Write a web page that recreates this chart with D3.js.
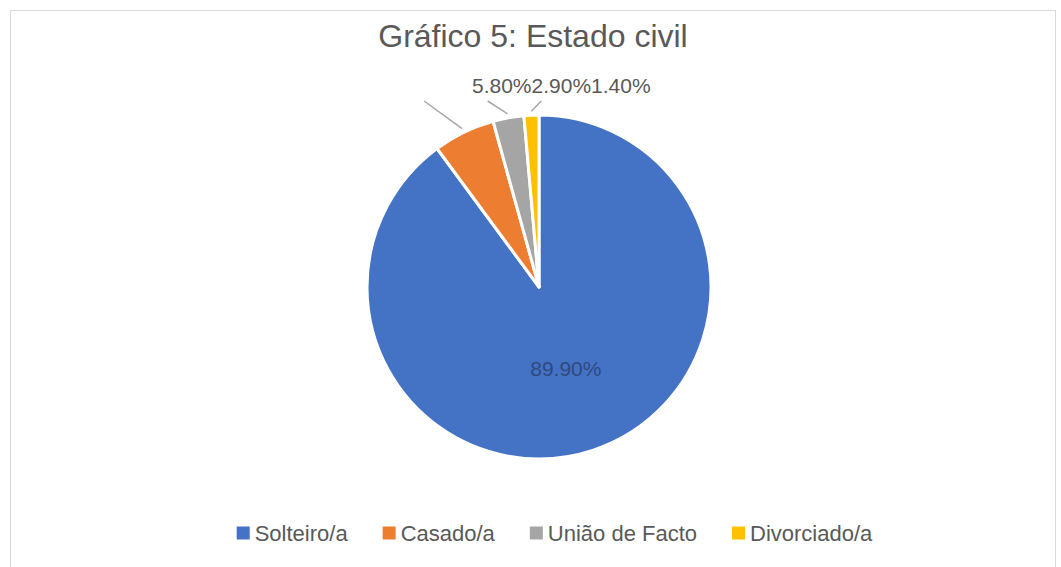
<!DOCTYPE html>
<html>
<head>
<meta charset="utf-8">
<script src="https://cdn.jsdelivr.net/npm/d3@7"></script>
<style>
  body { margin: 0; background: #fff; }
  svg text { font-family: "Liberation Sans", Arial, sans-serif; }
</style>
</head>
<body>
<div id="chart"></div>
<script>
// data
const categories = ["Solteiro/a", "Casado/a", "União de Facto", "Divorciado/a"];
const values = [89.9, 5.8, 2.9, 1.4];
const valueLabels = ["89.90%", "5.80%", "2.90%", "1.40%"];
const colors = ["#4472C4", "#ED7D31", "#A5A5A5", "#FFC000"];
const title = "Gráfico 5: Estado civil";

const width = 1061, height = 567;
const cx = 539, cy = 287, radius = 172;

const svg = d3.select("#chart").append("svg")
    .attr("width", width)
    .attr("height", height);

// chart area border
svg.append("rect")
    .attr("x", 10.5).attr("y", 10.5)
    .attr("width", 1045).attr("height", 570)
    .attr("fill", "none")
    .attr("stroke", "#D9D9D9")
    .attr("stroke-width", 1);

svg.append("text")
    .attr("x", 533)
    .attr("y", 47)
    .attr("text-anchor", "middle")
    .attr("fill", "#595959")
    .style("font-size", "32px")
    .text(title);

const data = categories.map((c, i) => ({ name: c, value: values[i], label: valueLabels[i], color: colors[i] }));

const pie = d3.pie().sort(null).value(d => d.value);
const arcs = pie(data);
const arc = d3.arc().innerRadius(0).outerRadius(radius);

const g = svg.append("g").attr("transform", `translate(${cx},${cy})`);

g.selectAll("path.slice")
    .data(arcs)
    .enter().append("path")
    .attr("class", "slice")
    .attr("d", arc)
    .attr("fill", d => d.data.color)
    .attr("stroke", "#fff")
    .attr("stroke-width", 3)
    .attr("stroke-linejoin", "round");

// inside label for the big slice
const innerArc = d3.arc().innerRadius(radius * 0.5).outerRadius(radius * 0.5);
const big = arcs[0];
const bigPos = innerArc.centroid(big);
g.append("text")
    .attr("x", bigPos[0])
    .attr("y", bigPos[1])
    .attr("dy", "0.35em")
    .attr("text-anchor", "middle")
    .attr("fill", "#2F4A80")
    .style("font-size", "21px")
    .text(big.data.label);

// outside labels in one row at the top, with leader lines
const small = arcs.slice(1);
const leaderDx = [-38, -20, 10];
const rowY = cy - radius - 22;     // baseline of the label row
const leaderTopY = cy - radius - 14;
const edgeArc = d3.arc().innerRadius(radius + 4).outerRadius(radius + 4);

small.forEach((d, i) => {
    const p = edgeArc.centroid(d);
    g.append("line")
        .attr("x1", p[0]).attr("y1", p[1])
        .attr("x2", p[0] + leaderDx[i])
        .attr("y2", leaderTopY - cy)
        .attr("stroke", "#A6A6A6")
        .attr("stroke-width", 1.5);
});

let lx = cx - 67;
small.forEach(d => {
    const t = svg.append("text")
        .attr("x", lx)
        .attr("y", rowY)
        .attr("fill", "#595959")
        .style("font-size", "21px")
        .text(d.data.label);
    lx += t.node().getComputedTextLength();
});

// legend
const legend = svg.append("g");
const sq = 13, gapText = 5, gapItem = 35, legendY = 533;
let x0 = 0;
data.forEach(d => {
    const item = legend.append("g").attr("transform", `translate(${x0},0)`);
    item.append("rect")
        .attr("x", 0).attr("y", legendY - sq / 2)
        .attr("width", sq).attr("height", sq)
        .attr("fill", d.color);
    const t = item.append("text")
        .attr("x", sq + gapText)
        .attr("y", legendY)
        .attr("dy", "0.35em")
        .attr("fill", "#595959")
        .style("font-size", "22px")
        .text(d.name);
    x0 += sq + gapText + t.node().getComputedTextLength() + gapItem;
});
const legendW = x0 - gapItem;
legend.attr("transform", `translate(${554.5 - legendW / 2},0)`);
</script>
</body>
</html>
